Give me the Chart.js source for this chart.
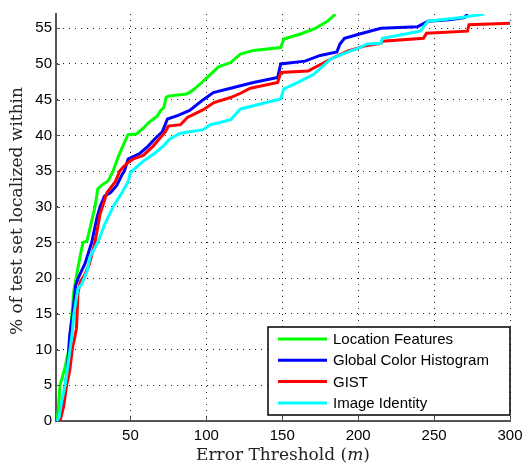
<!DOCTYPE html>
<html>
<head>
<meta charset="utf-8">
<script src="https://cdn.jsdelivr.net/npm/chart.js@4"></script>
<style>
  html, body { margin: 0; padding: 0; background: #fff; }
  #chart { display: block; }
</style>
</head>
<body>
<canvas id="chart" width="523" height="464"></canvas>
<script>
// series labels
const seriesNames = ["Location Features", "Global Color Histogram", "GIST", "Image Identity"];

// Location Features
const greenX = [1.5, 2.5, 3.6, 5, 6.9, 9.5, 12.8, 14.7, 16.8, 18.8, 21.4, 23.4, 26.7, 28.5, 31, 35.3, 38.6, 42, 45, 48.4, 54, 58.5, 62, 67.6, 70, 72, 73.5, 75, 87, 91, 96, 101, 108, 116, 122.5, 131, 149, 151, 162, 171, 180, 185];
const greenY = [0, 1.5, 5, 6, 7.5, 10, 18.3, 20.6, 23, 25, 25.2, 27, 30, 32.5, 33, 33.6, 35, 37, 38.5, 40.1, 40.2, 41, 41.8, 42.7, 43.5, 43.9, 45.3, 45.5, 45.8, 46.3, 47.2, 48.2, 49.6, 50.2, 51.4, 51.9, 52.3, 53.5, 54.2, 54.9, 56, 57];

// Global Color Histogram
const blueX = [1.5, 3.5, 5, 7, 8.5, 10, 12, 14, 15.6, 20, 24.5, 28, 30, 33, 37, 41, 44.5, 46, 48.5, 56.4, 61.7, 66, 71, 74.4, 81.5, 89, 98, 104.6, 116, 131, 147, 149, 165, 175, 186, 188, 191, 201, 215, 239, 246, 260, 270, 272];
const blueY = [0, 0.5, 2, 5, 7, 12, 15, 19, 20, 22, 25, 28.5, 30, 31.5, 32, 33, 34.5, 35, 36.7, 37.5, 38.5, 39.5, 40.5, 42.3, 42.8, 43.5, 45, 46, 46.6, 47.4, 48.1, 50, 50.4, 51.2, 51.7, 52.8, 53.6, 54.2, 55, 55.2, 56, 56.2, 56.5, 57];

// GIST
const redX = [1.5, 4, 6, 8, 10, 12, 13, 14.5, 15.5, 17, 20, 23, 26.7, 30, 34.6, 40, 43, 45, 48.5, 52, 58.5, 65, 71, 73, 75, 83, 87.5, 94, 98, 105, 116, 122.5, 129, 147, 149, 167, 182, 193, 204, 215, 216, 243, 245, 272, 273, 300];
const redY = [0, 0.3, 2, 5, 7, 10.5, 11.3, 13, 18, 19.5, 20.5, 22, 25, 29, 32, 33.5, 35, 35.5, 36.2, 36.7, 37.2, 38.5, 40, 40.5, 41.3, 41.5, 42.5, 43.2, 43.6, 44.6, 45.3, 45.9, 46.6, 47.4, 48.8, 49, 50.7, 51.8, 52.5, 52.9, 53.2, 53.6, 54.3, 54.6, 55.5, 55.7];

// Image Identity
const cyanX = [1.5, 3, 5, 7, 9, 11.5, 12.8, 15.4, 18, 21.5, 23.5, 28.5, 33, 38.6, 44.5, 48.5, 50, 58.5, 66, 71.6, 76, 83, 98, 102.6, 109, 116, 122.5, 135.6, 149, 151, 162, 171, 182, 191, 201, 206, 215, 216, 241, 246, 268, 283];
const cyanY = [0, 0.5, 3, 5, 8, 12, 15, 18.5, 19.2, 21, 23, 25, 27.5, 30, 32, 33.5, 34.8, 36.4, 37.5, 38.5, 39.5, 40.3, 40.8, 41.5, 41.8, 42.2, 43.7, 44.4, 45.1, 46.5, 47.6, 48.6, 50.7, 51.5, 52.3, 52.8, 52.9, 53.6, 54.6, 56, 56.5, 57];

// axis ticks
const xTicks = [50, 100, 150, 200, 250, 300];
const yTicks = [0, 5, 10, 15, 20, 25, 30, 35, 40, 45, 50, 55];

const colors = ["#00ff00", "#0000ff", "#ff0000", "#00ffff"];

function toPoints(xs, ys) {
    return xs.map((x, i) => ({ x: x, y: ys[i] }));
}

const seriesData = [
    toPoints(greenX, greenY),
    toPoints(blueX, blueY),
    toPoints(redX, redY),
    toPoints(cyanX, cyanY)
];

// axis titles, inside ticks and the boxed legend
const matlabBits = {
    id: "matlabBits",
    afterDatasetsDraw(chart) {
        const ctx = chart.ctx;
        const area = chart.chartArea;
        const xs = chart.scales.x;
        const ys = chart.scales.y;

        ctx.save();
        ctx.strokeStyle = "#555";
        ctx.lineWidth = 1;
        xTicks.forEach(v => {
            const px = Math.round(xs.getPixelForValue(v)) + 0.5;
            ctx.beginPath();
            ctx.moveTo(px, area.bottom);
            ctx.lineTo(px, area.bottom - 4);
            ctx.stroke();
        });
        yTicks.forEach(v => {
            const py = Math.round(ys.getPixelForValue(v)) + 0.5;
            ctx.beginPath();
            ctx.moveTo(area.left, py);
            ctx.lineTo(area.left + 4, py);
            ctx.stroke();
        });

        // legend
        const lx = 268, ly = 327, lw = 242, lh = 88;
        ctx.fillStyle = "#fff";
        ctx.fillRect(lx, ly, lw, lh);
        ctx.strokeStyle = "#000";
        ctx.lineWidth = 1.5;
        ctx.strokeRect(lx, ly, lw, lh);
        ctx.font = "15px 'Liberation Sans', Arial, sans-serif";
        ctx.textBaseline = "middle";
        ctx.textAlign = "left";
        seriesNames.forEach((name, i) => {
            const rowY = ly + 12 + i * 21.3;
            ctx.strokeStyle = colors[i];
            ctx.lineWidth = 3;
            ctx.beginPath();
            ctx.moveTo(lx + 10, rowY);
            ctx.lineTo(lx + 59, rowY);
            ctx.stroke();
            ctx.fillStyle = "#000";
            ctx.fillText(name, lx + 65, rowY + 1);
        });

        // x title with italic m
        ctx.fillStyle = "#222";
        ctx.textBaseline = "alphabetic";
        const serif = "'DejaVu Serif', 'Liberation Serif', serif";
        const size = "17px ";
        const part1 = "Error Threshold (";
        const part2 = "m";
        const part3 = ")";
        ctx.font = size + serif;
        const w1 = ctx.measureText(part1).width;
        const w3 = ctx.measureText(part3).width;
        ctx.font = "italic " + size + serif;
        const w2 = ctx.measureText(part2).width;
        let tx = (area.left + area.right) / 2 - (w1 + w2 + w3) / 2;
        const ty = 460;
        ctx.font = size + serif;
        ctx.fillText(part1, tx, ty);
        ctx.font = "italic " + size + serif;
        ctx.fillText(part2, tx + w1, ty);
        ctx.font = size + serif;
        ctx.fillText(part3, tx + w1 + w2, ty);

        // y title
        ctx.translate(18, 211);
        ctx.rotate(-Math.PI / 2);
        ctx.textAlign = "center";
        ctx.textBaseline = "middle";
        ctx.fillText("% of test set localized within", 0, 0);
        ctx.restore();
    }
};

const ctx = document.getElementById("chart").getContext("2d");
new Chart(ctx, {
    type: "line",
    data: {
        datasets: seriesData.map((pts, i) => ({
            label: seriesNames[i],
            data: pts,
            borderColor: colors[i],
            backgroundColor: colors[i],
            borderWidth: 3,
            pointRadius: 0,
            tension: 0,
            fill: false,
            order: 3 - i
        }))
    },
    options: {
        responsive: false,
        animation: false,
        devicePixelRatio: 1,
        layout: { padding: { top: 14, right: 13, left: 0, bottom: 0 } },
        plugins: {
            legend: { display: false },
            tooltip: { enabled: false }
        },
        scales: {
            x: {
                type: "linear",
                min: 1,
                max: 300,
                afterBuildTicks: scale => { scale.ticks = xTicks.map(v => ({ value: v })); },
                afterFit: scale => {
                    scale.height = 43;
                    scale.paddingLeft = 0;
                    scale.paddingRight = 0;
                },
                grid: { color: "#222", lineWidth: 1, drawTicks: false },
                border: { display: true, color: "#555", width: 2, dash: [1, 5] },
                ticks: {
                    padding: 6,
                    color: "#000",
                    font: { family: "'Liberation Sans', Arial, sans-serif", size: 15 },
                    maxRotation: 0
                }
            },
            y: {
                type: "linear",
                min: 0,
                max: 57,
                afterBuildTicks: scale => { scale.ticks = yTicks.map(v => ({ value: v })); },
                afterFit: scale => {
                    scale.width = 56;
                    scale.paddingTop = 0;
                    scale.paddingBottom = 0;
                },
                grid: { color: "#222", lineWidth: 1, drawTicks: false },
                border: { display: true, color: "#555", width: 2, dash: [1, 5] },
                ticks: {
                    padding: 4,
                    color: "#000",
                    font: { family: "'Liberation Sans', Arial, sans-serif", size: 15 }
                }
            }
        }
    },
    plugins: [matlabBits]
});
</script>
</body>
</html>
